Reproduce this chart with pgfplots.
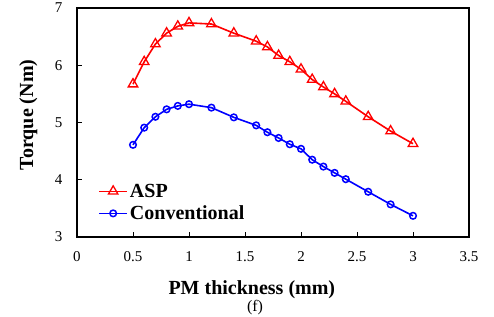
\documentclass[border=0pt]{standalone}
\usepackage{fontspec}
\setmainfont{Liberation Serif}
\usepackage{pgfplots}
\pgfplotsset{compat=1.18}
\begin{document}
\begin{tikzpicture}
\path[use as bounding box] (-77pt,-79pt) rectangle (417pt,237pt);
\begin{axis}[
  at={(0pt,0pt)}, anchor=south west,
  scale only axis, width=392pt, height=229pt,
  xmin=0, xmax=3.5, ymin=3, ymax=7,
  xtick={0,0.5,1,1.5,2,2.5,3,3.5}, ytick={3,4,5,6,7},
  xticklabels={0,0.5,1,1.5,2,2.5,3,3.5},
  tick align=inside, major tick length=5pt,
  xtick pos=bottom, ytick pos=left,
  axis line style={line width=1.4pt, black},
  tick style={line width=1pt, black},
  ticklabel style={font=\fontsize{15}{18}\selectfont},
  /pgf/number format/assume math mode=true,
  xticklabel style={yshift=-11pt},
  yticklabel style={xshift=-11pt},
  xlabel={\textbf{PM thickness (mm)}},
  ylabel={\textbf{Torque (Nm)}},
  label style={font=\fontsize{20}{24}\selectfont},
  xlabel style={at={(axis description cs:0.446,0)}, anchor=north, yshift=-40pt},
  ylabel style={at={(axis description cs:0,0.533)}, anchor=south, yshift=36pt},
  legend style={at={(axis description cs:0.054,0.06)}, anchor=south west, draw=none, fill=none,
    inner sep=0pt, row sep=3pt, font=\fontsize{20}{22}\selectfont\bfseries,
    cells={anchor=west}},
  legend cell align=left,
  legend image code/.code={\draw[mark repeat=2,mark phase=2] plot coordinates {(0pt,0pt) (14pt,0pt) (28pt,0pt)};},
]
\addplot[color=red, line width=1.6pt, mark=triangle, mark size=5.5pt, mark options={line width=1.3pt, fill=white}]
coordinates {
(0.5,5.67) (0.6,6.06) (0.7,6.37) (0.8,6.56) (0.9,6.68) (1.0,6.74) (1.2,6.72) (1.4,6.56)
(1.6,6.42) (1.7,6.32) (1.8,6.17) (1.9,6.06) (2.0,5.93) (2.1,5.75) (2.2,5.62) (2.3,5.50)
(2.4,5.37) (2.6,5.10) (2.8,4.85) (3.0,4.63)
};
\addlegendentry{ASP}
\addplot[color=blue, line width=1.6pt, mark=o, mark size=3.3pt, mark options={line width=1.5pt, fill=white}]
coordinates {
(0.5,4.61) (0.6,4.91) (0.7,5.10) (0.8,5.23) (0.9,5.29) (1.0,5.32) (1.2,5.26) (1.4,5.09)
(1.6,4.95) (1.7,4.83) (1.8,4.73) (1.9,4.62) (2.0,4.54) (2.1,4.35) (2.2,4.23) (2.3,4.12)
(2.4,4.01) (2.6,3.79) (2.8,3.57) (3.0,3.37)
};
\addlegendentry{Conventional}
\end{axis}
\node[font=\fontsize{16}{18}\selectfont, anchor=south, inner sep=0pt] at (178pt,-78pt) {(f)};
\end{tikzpicture}
\end{document}
